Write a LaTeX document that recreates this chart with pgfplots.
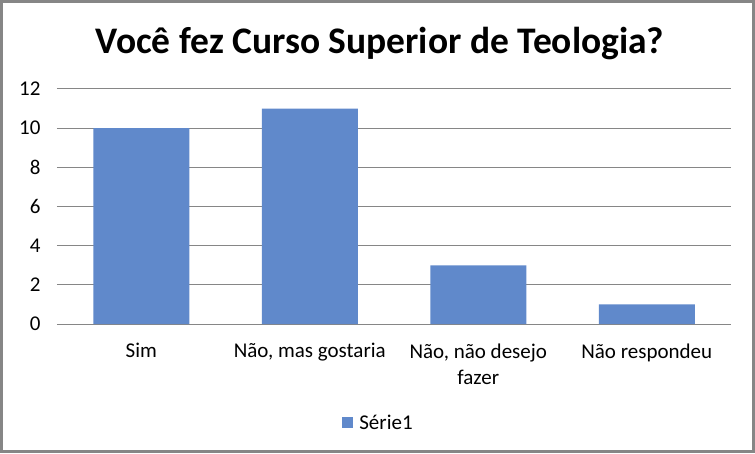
\documentclass[border=0pt]{standalone}
\usepackage{pgfplots}
\pgfplotsset{compat=1.18}
\usepackage{fontspec}
\setmainfont{Carlito}
\definecolor{barblue}{RGB}{96,137,203}
\definecolor{gridgray}{RGB}{134,134,134}
\definecolor{framegray}{RGB}{134,134,134}
\begin{document}
\begin{tikzpicture}
\path[use as bounding box] (0pt,0pt) rectangle (755pt,453pt);
\draw[framegray, line width=2.6pt] (1.3pt,1.3pt) rectangle (753.2pt,451.7pt);
\node[font=\fontsize{37.5}{44}\selectfont\bfseries, anchor=center] at (380pt,409pt) {Você fez Curso Superior de Teologia?};
\begin{axis}[
  at={(57pt,129pt)}, anchor=south west,
  scale only axis, width=674pt, height=235pt,
  ybar, bar width=96pt,
  xmin=-0.5, xmax=3.5, ymin=0, ymax=12,
  ytick={0,2,...,12},
  xtick={0,1,2,3},
  xticklabels={Sim,{Não, mas gostaria},{Não, não desejo\\fazer},Não respondeu},
  xticklabel style={align=center, font=\fontsize{21}{26}\selectfont, yshift=-16pt, anchor=north},
  yticklabel style={font=\fontsize{21}{24}\selectfont, xshift=-13pt},
  /pgf/number format/assume math mode=true,
  major tick length=0pt,
  axis line style={draw=none},
  ymajorgrids, grid style={gridgray, line width=1pt},
  legend image code/.code={\fill[barblue] (0pt,-5.5pt) rectangle (11pt,5.5pt);},
  legend style={at={(axis description cs:0.48,-0.42)}, anchor=center, draw=none, font=\fontsize{21}{24}\selectfont, nodes={inner xsep=6pt}},
  legend cell align=left,
]
\addplot[fill=barblue, draw=none] coordinates {(0,10) (1,11) (2,3) (3,1)};
\addlegendentry{Série1}
\end{axis}
\end{tikzpicture}
\end{document}
